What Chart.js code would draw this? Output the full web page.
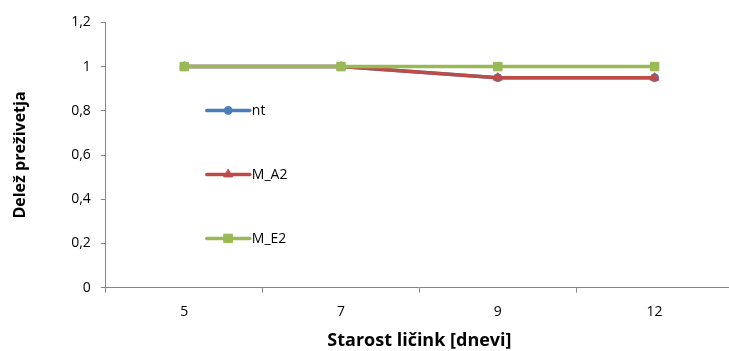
<!DOCTYPE html>
<html>
<head>
<meta charset="utf-8">
<script src="https://cdn.jsdelivr.net/npm/chart.js@4/dist/chart.umd.min.js"></script>
<style>
  html, body { margin: 0; padding: 0; background: #fff; overflow: hidden; }
  /* the x axis runs off the right edge in the original, so the canvas is a bit wider than the window */
  #wrap { width: 729px; height: 351px; overflow: hidden; }
  #survivalChart { display: block; margin-top: 4px; }
</style>
</head>
<body>
<div id="wrap"><canvas id="survivalChart" width="740" height="349"></canvas></div>
<script>
// starost ličink (dnevi) in delež preživetja
var days = ['5', '7', '9', '12'];
var ntValues = [1, 1, 0.95, 0.95];
var ma2Values = [1, 1, 0.95, 0.95];
var me2Values = [1, 1, 1, 1];

var fontFamily = "'Open Sans', 'Liberation Sans', sans-serif";

// legend drawn inside the plot, like the original
var insideLegend = {
	id: 'insideLegend',
	afterDraw: function(chart) {
		var ctx = chart.ctx;
		var area = chart.chartArea;
		var rows = [88, 152, 216];
		chart.data.datasets.forEach(function(ds, i) {
			var y = area.top + rows[i];
			var x0 = area.left + 101;
			var x1 = area.left + 144;
			ctx.save();
			ctx.strokeStyle = ds.borderColor;
			ctx.fillStyle = ds.borderColor;
			ctx.lineWidth = 3.5;
			ctx.lineCap = 'round';
			ctx.beginPath();
			ctx.moveTo(x0, y);
			ctx.lineTo(x1, y);
			ctx.stroke();
			ctx.lineWidth = 1;
			Chart.helpers.drawPoint(ctx, {
				pointStyle: ds.pointStyle,
				radius: ds.pointRadius,
				borderWidth: 1
			}, (x0 + x1) / 2, y);
			ctx.fillStyle = '#000';
			ctx.font = '14px ' + fontFamily;
			ctx.textBaseline = 'middle';
			ctx.fillText(ds.label, x1 + 2, y + 1);
			ctx.restore();
		});
	}
};

function makeSet(label, values, color, style, radius, order) {
	return {
		label: label,
		data: values,
		borderColor: color,
		backgroundColor: color,
		pointBackgroundColor: color,
		pointBorderColor: color,
		pointStyle: style,
		pointRadius: radius,
		pointBorderWidth: 1,
		borderWidth: 3.5,
		tension: 0,
		order: order
	};
}

var ctx = document.getElementById('survivalChart');

new Chart(ctx, {
	type: 'line',
	data: {
		labels: days,
		datasets: [
			makeSet('nt', ntValues, '#4A7EBB', 'circle', 4, 2),
			makeSet('M_A2', ma2Values, '#BE4B48', 'triangle', 5, 1),
			makeSet('M_E2', me2Values, '#98B954', 'rect', 6, 0)
		]
	},
	options: {
		responsive: false,
		animation: false,
		layout: {
			padding: { left: 11, right: 0, top: 15, bottom: 1 }
		},
		plugins: {
			legend: { display: false },
			tooltip: { enabled: false }
		},
		scales: {
			x: {
				offset: true,
				grid: {
					offset: true,
					drawOnChartArea: false,
					drawTicks: true,
					tickLength: 5,
					color: '#868686'
				},
				border: { color: '#868686', width: 1 },
				ticks: {
					color: '#000',
					padding: 11,
					font: { family: fontFamily, size: 14 }
				},
				title: {
					display: true,
					text: 'Starost ličink [dnevi]',
					color: '#000',
					padding: { top: -1, bottom: 0 },
					font: { family: fontFamily, size: 18, weight: 'bold' }
				}
			},
			y: {
				min: 0,
				max: 1.2,
				ticks: {
					stepSize: 0.2,
					color: '#000',
					padding: 10,
					font: { family: fontFamily, size: 14 },
					callback: function(v) {
						return String(Number(v.toFixed(1))).replace('.', ',');
					}
				},
				grid: {
					drawOnChartArea: false,
					drawTicks: true,
					tickLength: 5,
					color: '#868686'
				},
				border: { color: '#868686', width: 1 },
				title: {
					display: true,
					text: 'Delež preživetja',
					color: '#000',
					padding: { top: 0, bottom: 31 },
					font: { family: fontFamily, size: 16, weight: 'bold' }
				}
			}
		}
	},
	plugins: [insideLegend]
});
</script>
</body>
</html>
